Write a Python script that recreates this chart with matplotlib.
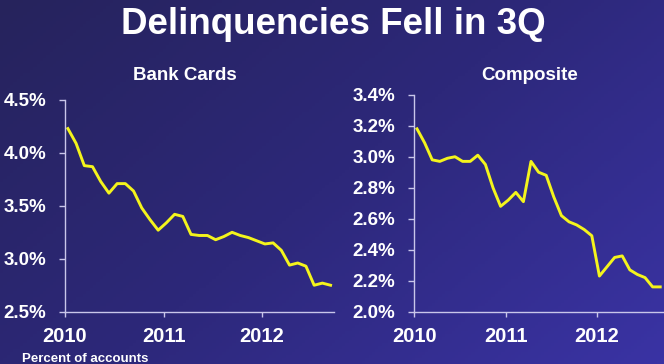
import matplotlib
matplotlib.use("Agg")
import matplotlib.pyplot as plt
import numpy as np
from matplotlib.colors import LinearSegmentedColormap
from matplotlib.ticker import FuncFormatter

plt.rcParams["font.family"] = ["Liberation Sans", "DejaVu Sans"]
plt.rcParams["font.weight"] = "bold"

# ── Data (monthly, Jan 2010 – Sep 2012) ─────────────────────────────────
bank_cards = [
    4.23, 4.09, 3.88, 3.87, 3.73, 3.62, 3.71, 3.71, 3.64, 3.48, 3.37,
    3.27, 3.34, 3.42, 3.40, 3.23, 3.22, 3.22, 3.18, 3.21, 3.25, 3.22,
    3.20, 3.17, 3.14, 3.15, 3.08, 2.94, 2.96, 2.93, 2.75, 2.77, 2.75,
]
composite = [
    3.18, 3.09, 2.98, 2.97, 2.99, 3.00, 2.97, 2.97, 3.01, 2.95, 2.80,
    2.68, 2.72, 2.77, 2.71, 2.97, 2.90, 2.88, 2.74, 2.62, 2.58, 2.56,
    2.53, 2.49, 2.23, 2.29, 2.35, 2.36, 2.27, 2.24, 2.22, 2.16, 2.16,
]
start_year = 2010
year_ticks = [2010, 2011, 2012]
bank_yticks = [2.5, 3.0, 3.5, 4.0, 4.5]
comp_yticks = [2.0, 2.2, 2.4, 2.6, 2.8, 3.0, 3.2, 3.4]

LINE_COLOR = "#f4f41c"
SPINE_COLOR = "#c9c6ea"
TEXT_COLOR = "white"

months = np.arange(len(bank_cards))
x = start_year + (months + 0.35) / 12


def _style_axis(ax, yticks, ylim, fmt):
    ax.set_facecolor("none")
    for side in ["top", "right"]:
        ax.spines[side].set_visible(False)
    for side in ["left", "bottom"]:
        ax.spines[side].set_color(SPINE_COLOR)
        ax.spines[side].set_linewidth(1.0)
    ax.set_xlim(start_year, start_year + 2.73)
    ax.set_ylim(*ylim)
    ax.set_xticks(year_ticks)
    ax.set_xticklabels([str(y) for y in year_ticks])
    ax.set_yticks(yticks)
    ax.yaxis.set_major_formatter(FuncFormatter(lambda v, _: fmt.format(v)))
    ax.tick_params(axis="y", colors=SPINE_COLOR, length=4.5, width=1.0, pad=9,
                   labelcolor=TEXT_COLOR, labelsize=13.5)
    ax.tick_params(axis="x", colors=SPINE_COLOR, length=3.5, width=1.0, pad=7.5,
                   labelcolor=TEXT_COLOR, labelsize=14.5)
    for lab in ax.get_xticklabels() + ax.get_yticklabels():
        lab.set_fontweight("bold")


fig = plt.figure(figsize=(6.64, 3.64), dpi=100)

# background gradient
bg = fig.add_axes([0, 0, 1, 1], zorder=-10)
cmap = LinearSegmentedColormap.from_list("bg", ["#26235c", "#2d287a", "#3a33a4"])
gx, gy = np.meshgrid(np.linspace(0, 1, 200), np.linspace(0, 1, 120))
grad = 0.6 * gx + 0.4 * gy
bg.imshow(grad, cmap=cmap, aspect="auto", extent=[0, 1, 0, 1], origin="upper")
bg.set_axis_off()

ax1 = fig.add_axes([0.0979, 0.1437, 0.405, 0.5816])
ax1.plot(x, bank_cards, color=LINE_COLOR, lw=2.1, clip_on=False)
_style_axis(ax1, bank_yticks, (2.5, 4.5), "{:.1f}%")

ax2 = fig.add_axes([0.624, 0.1437, 0.375, 0.596])
ax2.plot(x, composite, color=LINE_COLOR, lw=2.1, clip_on=False)
_style_axis(ax2, comp_yticks, (2.0, 3.4), "{:.1f}%")

fig.text(0.502, 0.907, "Delinquencies Fell in 3Q", ha="center", va="baseline",
         color=TEXT_COLOR, fontsize=26.5, fontweight="bold")
fig.text(0.279, 0.78, "Bank Cards", ha="center", va="baseline",
         color=TEXT_COLOR, fontsize=13.5, fontweight="bold")
fig.text(0.797, 0.78, "Composite", ha="center", va="baseline",
         color=TEXT_COLOR, fontsize=13.5, fontweight="bold")
fig.text(0.033, 0.005, "Percent of accounts", ha="left", va="baseline",
         color=TEXT_COLOR, fontsize=9.5, fontweight="bold")

fig.savefig("out.png", dpi=100)
